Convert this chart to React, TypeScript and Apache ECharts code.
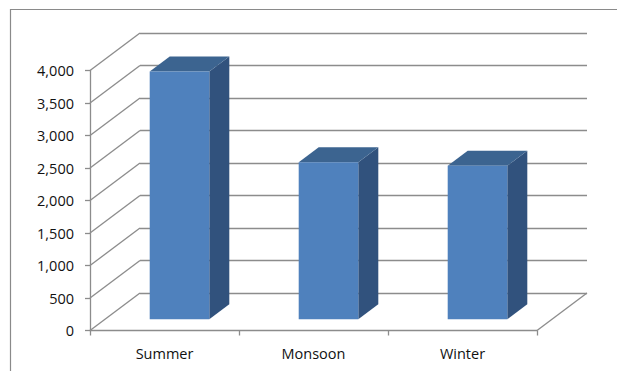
import React, { useEffect, useRef } from "react";
import * as echarts from "echarts";

const categories = ["Summer", "Monsoon", "Winter"];
const values = [3810, 2417, 2360];
const yTicks = [0, 500, 1000, 1500, 2000, 2500, 3000, 3500, 4000];
const yMin = 0;
const yMax = 4000;
const yInterval = 500;

const DX = 50;
const DY = 37.5;
const GRID = "#8c8c8c";
const LW = 1.3;
const FRONT = "#4F81BD";
const SIDE = "#31527D";
const TOP = "#3C6490";
const FONT = "'Open Sans', sans-serif";

export default function App() {
  const ref = useRef<HTMLDivElement>(null);

  useEffect(() => {
    document.body.style.margin = "0";
    const chart = echarts.init(ref.current as HTMLDivElement, null, { renderer: "svg" });
    const lineStyle = { stroke: GRID, lineWidth: LW };
    const crisp = (v: number) => Math.round(v - 0.5) + 0.5;

    const option: any = {
      animation: false,
      backgroundColor: "#ffffff",
      grid: { left: 90, right: 80, top: 70.5, bottom: 40.5, containLabel: false },
      graphic: [
        {
          type: "rect",
          shape: { x: 10.5, y: 9.5, width: 800, height: 600 },
          style: { fill: "none", stroke: "#8a8a8a", lineWidth: 1.2 },
          silent: true,
        },
      ],
      xAxis: {
        type: "category",
        data: categories,
        boundaryGap: true,
        axisLine: { show: true, lineStyle: { color: GRID, width: LW } },
        axisTick: { show: true, length: 5, lineStyle: { color: GRID, width: LW } },
        axisLabel: { color: "#111111", fontSize: 14.5, fontFamily: FONT, margin: 15 },
        splitLine: { show: false },
      },
      yAxis: {
        type: "value",
        min: yMin,
        max: yMax,
        interval: yInterval,
        axisLine: { show: true, lineStyle: { color: GRID, width: LW } },
        axisTick: { show: true, length: 5, lineStyle: { color: GRID, width: LW } },
        axisLabel: {
          color: "#111111",
          fontSize: 14.5,
          fontFamily: FONT,
          margin: 16,
          formatter: (v: number) => v.toLocaleString("en-US"),
        },
        splitLine: { show: false },
      },
      series: [
        {
          type: "custom",
          z: 1,
          silent: true,
          data: yTicks.map((v) => [0, v]),
          renderItem: (params: any, api: any) => {
            const cs = params.coordSys;
            const v = api.value(1);
            const y = api.coord([0, v])[1];
            const x0 = cs.x;
            const x1 = cs.x + cs.width;
            const yb = crisp(y - DY);
            const children: any[] = [
              { type: "line", shape: { x1: x0, y1: y, x2: x0 + DX, y2: y - DY }, style: lineStyle },
              { type: "line", shape: { x1: x0 + DX, y1: yb, x2: x1 + DX, y2: yb }, style: lineStyle },
            ];
            if (v === yMin) {
              children.push({
                type: "line",
                shape: { x1: x1, y1: y, x2: x1 + DX, y2: y - DY },
                style: lineStyle,
              });
            }
            return { type: "group", children };
          },
        },
        {
          type: "custom",
          z: 5,
          data: values.map((v, i) => [i, v]),
          renderItem: (params: any, api: any) => {
            const idx = api.value(0);
            const v = api.value(1);
            const base = api.coord([idx, 0]);
            const top = api.coord([idx, v]);
            const band = api.size([1, 0])[0];
            const w = band * 0.4;
            const ox = DX * 0.3;
            const oy = DY * 0.3;
            const bx = DX * 0.4;
            const by = DY * 0.4;
            const xl = base[0] - w / 2 + ox;
            const xr = xl + w;
            const yb = base[1] - oy;
            const yt = top[1] - oy;
            return {
              type: "group",
              children: [
                {
                  type: "polygon",
                  shape: { points: [[xr, yt], [xr + bx, yt - by], [xr + bx, yb - by], [xr, yb]] },
                  style: { fill: SIDE },
                },
                {
                  type: "polygon",
                  shape: { points: [[xl, yt], [xl + bx, yt - by], [xr + bx, yt - by], [xr, yt]] },
                  style: { fill: TOP },
                },
                {
                  type: "rect",
                  shape: { x: xl, y: yt, width: w, height: yb - yt },
                  style: { fill: FRONT },
                },
              ],
            };
          },
        },
      ],
    };

    chart.setOption(option);
    return () => chart.dispose();
  }, []);

  return <div ref={ref} style={{ width: 617, height: 371 }} />;
}
